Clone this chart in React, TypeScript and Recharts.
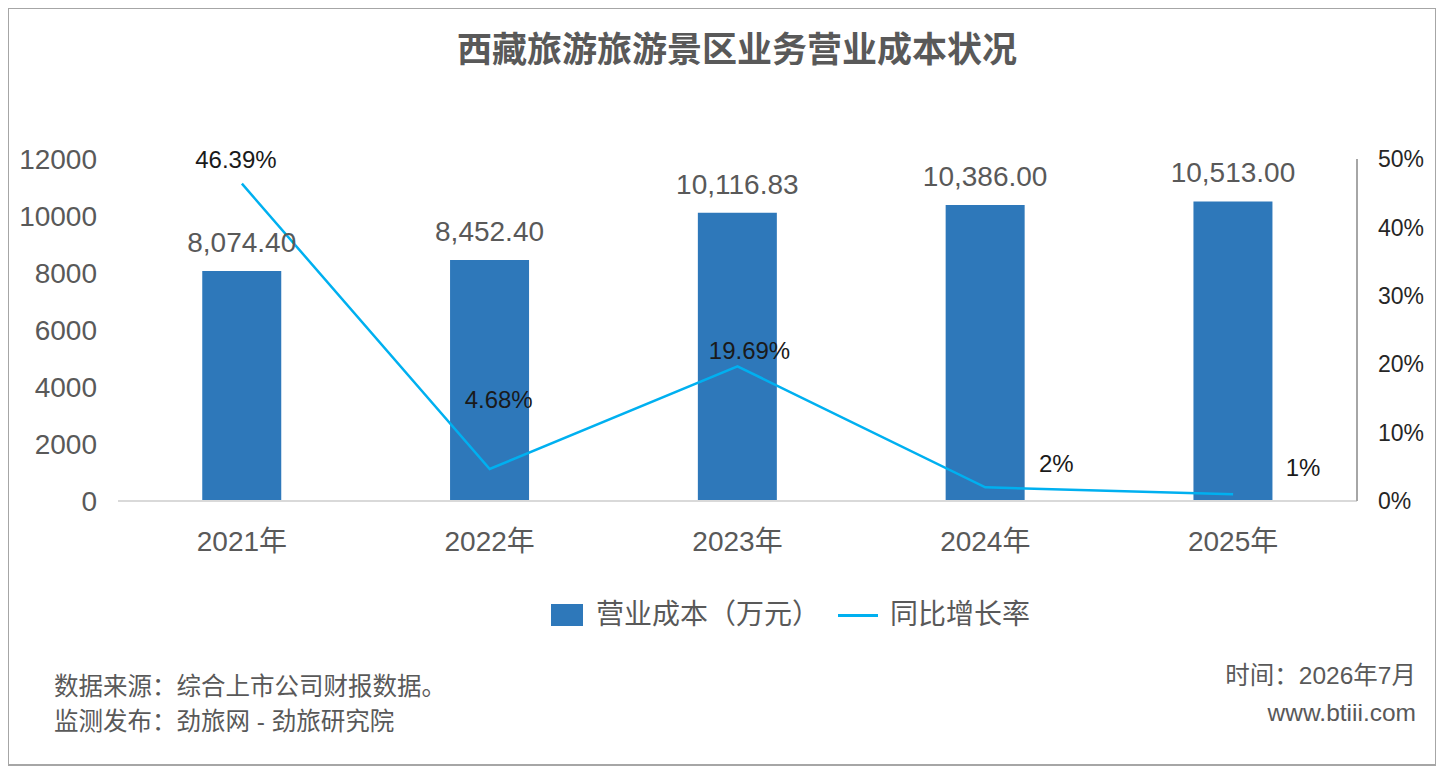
import {
  Bar,
  ComposedChart,
  LabelList,
  Line,
  XAxis,
  YAxis,
} from "recharts";

const YEARS = ["2021年", "2022年", "2023年", "2024年", "2025年"];
const COST = [8074.4, 8452.4, 10116.83, 10386.0, 10513.0]; // 营业成本（万元）
const RATE = [46.39, 4.68, 19.69, 2, 1]; // 同比增长率 %
const RATE_LABELS = ["46.39%", "4.68%", "19.69%", "2%", "1%"];
const LEFT_TICKS = [0, 2000, 4000, 6000, 8000, 10000, 12000];
const RIGHT_TICKS = [0, 10, 20, 30, 40, 50];

// label nudges for the growth-rate labels (px)
const RATE_OFFSETS = [
  { dx: -6, dy: -24 },
  { dx: 9, dy: -69 },
  { dx: 12, dy: -16 },
  { dx: 71, dy: -24 },
  { dx: 70, dy: -27 },
];

const FONT = '"Liberation Sans", "Noto Sans CJK SC", sans-serif';
const GRAY = "#595959";
const BAR = "#2e78ba";
const LINE = "#00b0f0";

const data = YEARS.map((y, i) => ({ year: y, cost: COST[i], rate: RATE[i] }));

const fmt = (v: number) =>
  v.toLocaleString("en-US", { minimumFractionDigits: 2, maximumFractionDigits: 2 });

function RateLabel(props: any) {
  const idx = props.index ?? RATE.indexOf(props.value);
  const off = RATE_OFFSETS[idx] ?? { dx: 0, dy: -20 };
  return (
    <text
      x={props.x + off.dx}
      y={props.y + off.dy}
      textAnchor="middle"
      dominantBaseline="central"
      fontSize={24}
      fontFamily={FONT}
      fill="#1a1a1a"
    >
      {RATE_LABELS[idx]}
    </text>
  );
}

export default function App() {
  return (
    <div
      style={{
        position: "relative",
        width: 1428,
        height: 758,
        boxSizing: "border-box",
        border: "1px solid #a6a6a6",
        borderBottomWidth: 2,
        fontFamily: FONT,
        background: "#fff",
      }}
    >
      <div
        style={{
          position: "absolute",
          left: 0,
          width: 1456,
          top: 21,
          textAlign: "center",
          fontSize: 35,
          fontWeight: "bold",
          color: GRAY,
          lineHeight: "40px",
        }}
      >
        西藏旅游旅游景区业务营业成本状况
      </div>

      <ComposedChart
        width={1426}
        height={755}
        data={data}
        margin={{ top: 150, right: 8, bottom: 203, left: 19 }}
        barCategoryGap="34%"
      >
        <XAxis
          dataKey="year"
          axisLine={{ stroke: "#d9d9d9", strokeWidth: 2 }}
          tickLine={false}
          tick={{ fontSize: 28, fill: GRAY, fontFamily: FONT }}
          tickMargin={24}
          height={60}
        />
        <YAxis
          yAxisId="left"
          domain={[0, 12000]}
          ticks={LEFT_TICKS}
          axisLine={false}
          tickLine={false}
          tickSize={0}
          tickMargin={21}
          width={90}
          tick={{ fontSize: 28, fill: GRAY, fontFamily: FONT }}
          interval={0}
        />
        <YAxis
          yAxisId="right"
          orientation="right"
          domain={[0, 50]}
          ticks={RIGHT_TICKS}
          tickFormatter={(v) => `${v}%`}
          axisLine={{ stroke: "#a6a6a6", strokeWidth: 2 }}
          tickLine={false}
          tickSize={0}
          tickMargin={21}
          width={70}
          tick={{ fontSize: 23, fill: "#262626", fontFamily: FONT }}
          interval={0}
        />
        <Bar yAxisId="left" dataKey="cost" fill={BAR} isAnimationActive={false}>
          <LabelList
            dataKey="cost"
            position="top"
            offset={19}
            formatter={(v: any) => fmt(Number(v))}
            style={{ fontSize: 28, fill: GRAY, fontFamily: FONT }}
          />
        </Bar>
        <Line
          yAxisId="right"
          dataKey="rate"
          type="linear"
          stroke={LINE}
          strokeWidth={2.5}
          dot={false}
          activeDot={false}
          isAnimationActive={false}
        >
          <LabelList dataKey="rate" content={RateLabel} />
        </Line>
      </ComposedChart>

      {/* legend */}
      <div style={{ position: "absolute", left: 542, top: 595, width: 32, height: 22, background: BAR }} />
      <div style={{ position: "absolute", left: 587, top: 588, fontSize: 28, lineHeight: "36px", color: GRAY }}>
        营业成本（万元）
      </div>
      <div style={{ position: "absolute", left: 829, top: 605, width: 40, height: 3, background: LINE }} />
      <div style={{ position: "absolute", left: 881, top: 588, fontSize: 28, lineHeight: "36px", color: GRAY }}>
        同比增长率
      </div>

      {/* footer */}
      <div style={{ position: "absolute", left: 45, top: 663, fontSize: 24.5, lineHeight: "30px", color: GRAY }}>
        数据来源：综合上市公司财报数据。
      </div>
      <div style={{ position: "absolute", left: 45, top: 698, fontSize: 24.5, lineHeight: "30px", color: GRAY }}>
        监测发布：劲旅网 - 劲旅研究院
      </div>
      <div style={{ position: "absolute", right: 19, top: 652, fontSize: 24.5, lineHeight: "30px", color: GRAY }}>
        时间：2026年7月
      </div>
      <div style={{ position: "absolute", right: 19, top: 689, fontSize: 24.5, lineHeight: "30px", color: GRAY }}>
        www.btiii.com
      </div>
    </div>
  );
}
